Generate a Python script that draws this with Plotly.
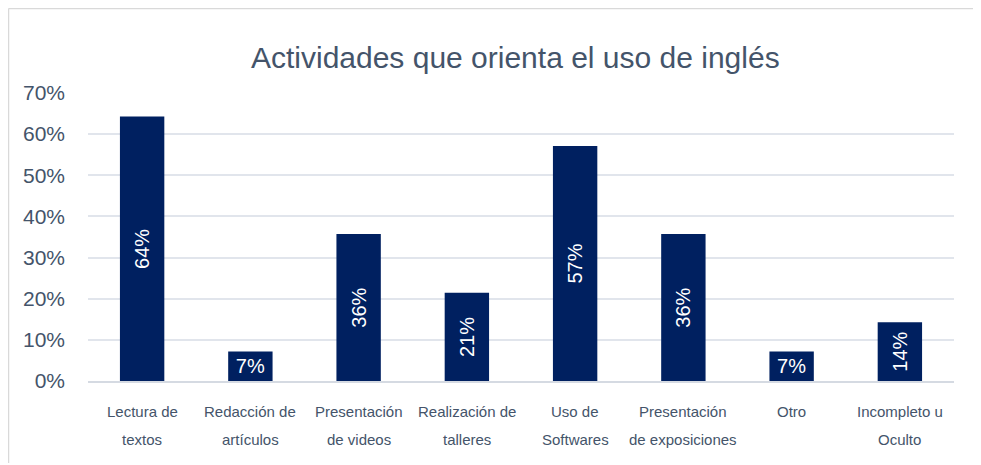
import plotly.graph_objects as go

# datos
categorias = ['Lectura de textos', 'Redacción de artículos', 'Presentación de videos',
              'Realización de talleres', 'Uso de Softwares', 'Presentación de exposiciones',
              'Otro', 'Incompleto u Oculto']
linea1 = ['Lectura de', 'Redacción de', 'Presentación', 'Realización de',
          'Uso de', 'Presentación', 'Otro', 'Incompleto u']
linea2 = ['textos', 'artículos', 'de videos', 'talleres',
          'Softwares', 'de exposiciones', '', 'Oculto']
valores = [9/14, 1/14, 5/14, 3/14, 8/14, 5/14, 1/14, 2/14]

AZUL = '#002060'
TEXTO = '#44546A'
FUENTE = 'Liberation Sans, Arial, sans-serif'

# la página deja 8px de margen: el lienzo empieza en (8, 8)
ANCHO, ALTO = 970, 455
PL, PR, PT, PB = 80, 24, 85, 82
alto_plot = ALTO - PT - PB
ancho_plot = ANCHO - PL - PR

# barras altas con etiqueta vertical, barras cortas con etiqueta horizontal
altas = [(c, v) for c, v in zip(categorias, valores) if v >= 0.1]
cortas = [(c, v) for c, v in zip(categorias, valores) if v < 0.1]

fig = go.Figure()
for grupo, angulo in [(altas, -90), (cortas, 0)]:
    fig.add_trace(go.Bar(
        x=[c for c, _ in grupo],
        y=[v for _, v in grupo],
        marker=dict(color=AZUL, line=dict(width=0)),
        texttemplate='%{y:.0%}',
        textposition='inside',
        insidetextanchor='middle',
        textangle=angulo,
        constraintext='none',
        textfont=dict(color='white', size=20, family=FUENTE),
        showlegend=False,
        hoverinfo='skip',
    ))

# etiquetas de categoría en dos líneas
for c, l1, l2 in zip(categorias, linea1, linea2):
    fig.add_annotation(x=c, y=-30 / alto_plot, xref='x', yref='paper', text=l1,
                       yanchor='middle', showarrow=False,
                       font=dict(size=15, color=TEXTO, family=FUENTE))
    if l2:
        fig.add_annotation(x=c, y=-58 / alto_plot, xref='x', yref='paper', text=l2,
                           yanchor='middle', showarrow=False,
                           font=dict(size=15, color=TEXTO, family=FUENTE))

# borde exterior del gráfico (solo arriba e izquierda se ven)
borde_x0 = (0.5 - PL) / ancho_plot
borde_x1 = (ANCHO - PL) / ancho_plot
borde_y0 = -PB / alto_plot
borde_y1 = (alto_plot + PT - 0.5) / alto_plot
fig.add_shape(type='line', xref='paper', yref='paper',
              x0=borde_x0, x1=borde_x1, y0=borde_y1, y1=borde_y1,
              line=dict(color='#D9D9D9', width=1.5), layer='below')
fig.add_shape(type='line', xref='paper', yref='paper',
              x0=borde_x0, x1=borde_x0, y0=borde_y0, y1=borde_y1,
              line=dict(color='#D9D9D9', width=1.5), layer='below')

fig.update_layout(
    width=ANCHO, height=ALTO,
    margin=dict(l=PL, r=PR, t=PT, b=PB),
    paper_bgcolor='white', plot_bgcolor='white',
    barmode='overlay', bargap=0.59,
    title=dict(text='Actividades que orienta el uso de inglés',
               x=0.523, xanchor='center', y=1 - 49 / ALTO, yanchor='middle',
               font=dict(size=30, color=TEXTO, family=FUENTE)),
    xaxis=dict(categoryorder='array', categoryarray=categorias,
               showticklabels=False, showline=True, linecolor='#D5DAE2', linewidth=1.5,
               ticks='', fixedrange=True),
    yaxis=dict(range=[0, 0.7], dtick=0.1, tickformat='.0%',
               showgrid=True, gridcolor='#E1E5EC', gridwidth=1.5,
               zeroline=False, showline=False, ticklabelstandoff=22,
               tickfont=dict(size=21, color=TEXTO, family=FUENTE)),
)

fig.write_html('out.html')
